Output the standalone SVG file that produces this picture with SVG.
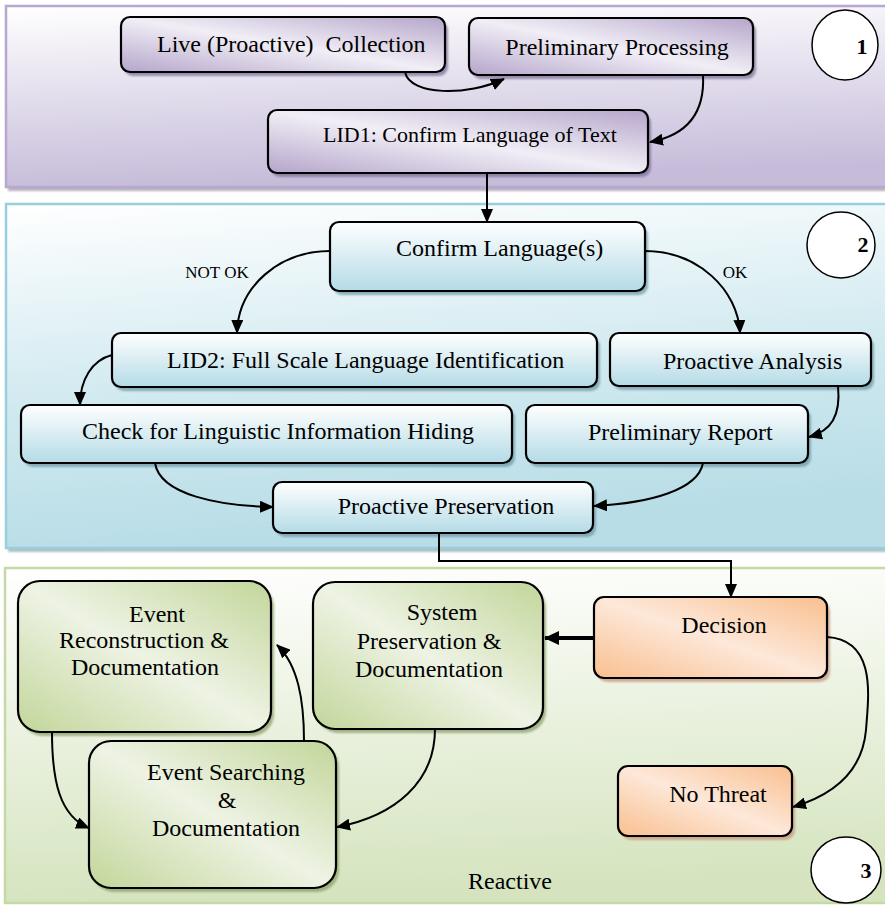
<svg xmlns="http://www.w3.org/2000/svg" width="885" height="906" viewBox="0 0 885 906">
  <defs>
    <!-- panel backgrounds -->
    <linearGradient id="gPanelPurple" x1="0" y1="0" x2="0.15" y2="1">
      <stop offset="0" stop-color="#ffffff"/>
      <stop offset="1" stop-color="#c6bcda"/>
    </linearGradient>
    <linearGradient id="gPanelBlue" x1="0" y1="0" x2="0.2" y2="1">
      <stop offset="0" stop-color="#ffffff"/>
      <stop offset="0.55" stop-color="#d2eaf0"/>
      <stop offset="1" stop-color="#b8dde7"/>
    </linearGradient>
    <linearGradient id="gPanelGreen" x1="0" y1="0" x2="0.1" y2="1">
      <stop offset="0" stop-color="#ffffff"/>
      <stop offset="1" stop-color="#d5e4bf"/>
    </linearGradient>
    <!-- node fills -->
    <linearGradient id="gPurple" x1="1" y1="0" x2="0" y2="1">
      <stop offset="0" stop-color="#b5a5ca"/>
      <stop offset="0.5" stop-color="#f1eef6"/>
      <stop offset="1" stop-color="#b5a5ca"/>
    </linearGradient>
    <linearGradient id="gBlue" x1="0" y1="0" x2="0" y2="1">
      <stop offset="0" stop-color="#ffffff"/>
      <stop offset="1" stop-color="#b4dbe6"/>
    </linearGradient>
    <linearGradient id="gGreen" x1="1" y1="0" x2="0" y2="1">
      <stop offset="0" stop-color="#c2d69a"/>
      <stop offset="0.5" stop-color="#eef3e4"/>
      <stop offset="1" stop-color="#c2d69a"/>
    </linearGradient>
    <linearGradient id="gOrange" x1="1" y1="0" x2="0" y2="1">
      <stop offset="0" stop-color="#f9bf8f"/>
      <stop offset="0.5" stop-color="#fde8d9"/>
      <stop offset="1" stop-color="#f9bf8f"/>
    </linearGradient>
    <filter id="soft" x="-5%" y="-5%" width="110%" height="115%">
      <feGaussianBlur stdDeviation="0.8"/>
    </filter>
    <marker id="arrow" markerUnits="userSpaceOnUse" markerWidth="14" markerHeight="12" refX="13" refY="6" orient="auto">
      <path d="M0,0 L14,6 L0,12 Z" fill="#000"/>
    </marker>
    <marker id="arrowBig" markerUnits="userSpaceOnUse" markerWidth="15" markerHeight="14" refX="14" refY="7" orient="auto">
      <path d="M0,0 L15,7 L0,14 Z" fill="#000"/>
    </marker>
  </defs>
  <style>
    .panel { stroke-width: 2.5; }
    .node { stroke: #000; stroke-width: 2.2; }
    .shadow { filter: url(#soft); opacity: 0.75; }
    .lbl { font-family: "Liberation Serif", "Times New Roman", serif; font-size: 24px; fill: #000; }
    .small { font-size: 17px; }
    .num { font-family: "Liberation Serif", "Times New Roman", serif; font-size: 22px; font-weight: bold; fill: #000; }
    .tag { fill: #fff; stroke: #000; stroke-width: 1.5; }
    .conn { fill: none; stroke: #000; stroke-width: 2; marker-end: url(#arrow); }
  </style>

  <rect width="885" height="906" fill="#ffffff"/>

  <!-- Stage 1: proactive collection -->
  <g id="panel-1">
    <rect x="8" y="9" width="880" height="182" fill="#9e97aa" class="shadow"/>
    <rect x="6" y="6" width="882" height="181" fill="url(#gPanelPurple)" stroke="#b8a8d0" class="panel"/>
    <ellipse class="tag" cx="845" cy="45" rx="33" ry="35"/>
    <text class="num" x="862" y="54" text-anchor="middle">1</text>
  </g>

  <!-- Stage 2: proactive analysis -->
  <g id="panel-2">
    <rect x="8" y="207" width="880" height="345" fill="#97aab0" class="shadow"/>
    <rect x="6" y="204" width="882" height="344" fill="url(#gPanelBlue)" stroke="#97cfdd" class="panel"/>
    <ellipse class="tag" cx="841" cy="245" rx="34" ry="33"/>
    <text class="num" x="863" y="252" text-anchor="middle">2</text>
  </g>

  <!-- Stage 3: reactive -->
  <g id="panel-3">
    <rect x="5" y="568" width="883" height="335" fill="url(#gPanelGreen)" stroke="#c4d9a4" class="panel"/>
    <ellipse class="tag" cx="846" cy="870" rx="35" ry="33"/>
    <text class="num" x="866" y="878" text-anchor="middle">3</text>
    <text class="lbl" x="510" y="889" text-anchor="middle">Reactive</text>
  </g>

  <!-- Nodes -->
  <g id="live-collection">
    <rect x="124" y="21" width="324" height="55" rx="9" fill="#7e6f98" class="shadow"/>
    <rect x="121" y="17" width="324" height="55" rx="9" fill="url(#gPurple)" class="node"/>
    <text class="lbl" x="157" y="52" xml:space="preserve">Live (Proactive)  Collection</text>
  </g>
  <g id="preliminary-processing">
    <rect x="472" y="22" width="284" height="57" rx="9" fill="#7e6f98" class="shadow"/>
    <rect x="469" y="18" width="284" height="57" rx="9" fill="url(#gPurple)" class="node"/>
    <text class="lbl" x="617" y="55" text-anchor="middle">Preliminary Processing</text>
  </g>
  <g id="lid1">
    <rect x="271" y="114" width="380" height="63" rx="9" fill="#7e6f98" class="shadow"/>
    <rect x="268" y="110" width="380" height="63" rx="9" fill="url(#gPurple)" class="node"/>
    <text class="lbl" x="323" y="142" style="font-size:22px">LID1: Confirm Language of Text</text>
  </g>

  <g id="confirm-language">
    <rect x="333" y="226" width="315" height="69" rx="9" fill="#6f98a6" class="shadow"/>
    <rect x="330" y="222" width="315" height="69" rx="9" fill="url(#gBlue)" class="node"/>
    <text class="lbl" x="396" y="256">Confirm Language(s)</text>
  </g>
  <g id="lid2">
    <rect x="115" y="337" width="485" height="54" rx="9" fill="#6f98a6" class="shadow"/>
    <rect x="112" y="333" width="485" height="54" rx="9" fill="url(#gBlue)" class="node"/>
    <text class="lbl" x="167" y="368">LID2: Full Scale Language Identification</text>
  </g>
  <g id="proactive-analysis">
    <rect x="613" y="337" width="261" height="53" rx="9" fill="#6f98a6" class="shadow"/>
    <rect x="610" y="333" width="261" height="53" rx="9" fill="url(#gBlue)" class="node"/>
    <text class="lbl" x="663" y="369">Proactive Analysis</text>
  </g>
  <g id="check-hiding">
    <rect x="24" y="409" width="491" height="58" rx="9" fill="#6f98a6" class="shadow"/>
    <rect x="21" y="405" width="491" height="58" rx="9" fill="url(#gBlue)" class="node"/>
    <text class="lbl" x="82" y="439">Check for Linguistic Information Hiding</text>
  </g>
  <g id="preliminary-report">
    <rect x="529" y="409" width="282" height="58" rx="9" fill="#6f98a6" class="shadow"/>
    <rect x="526" y="405" width="282" height="58" rx="9" fill="url(#gBlue)" class="node"/>
    <text class="lbl" x="588" y="440">Preliminary Report</text>
  </g>
  <g id="proactive-preservation">
    <rect x="276" y="486" width="320" height="51" rx="9" fill="#6f98a6" class="shadow"/>
    <rect x="273" y="482" width="320" height="51" rx="9" fill="url(#gBlue)" class="node"/>
    <text class="lbl" x="446" y="514" text-anchor="middle">Proactive Preservation</text>
  </g>

  <g id="decision">
    <rect x="597" y="601" width="233" height="81" rx="10" fill="#c7967a" class="shadow"/>
    <rect x="594" y="597" width="233" height="81" rx="10" fill="url(#gOrange)" class="node"/>
    <text class="lbl" x="724" y="633" text-anchor="middle">Decision</text>
  </g>
  <g id="no-threat">
    <rect x="621" y="770" width="174" height="70" rx="10" fill="#c7967a" class="shadow"/>
    <rect x="618" y="766" width="174" height="70" rx="10" fill="url(#gOrange)" class="node"/>
    <text class="lbl" x="718" y="802" text-anchor="middle">No Threat</text>
  </g>
  <g id="system-preservation">
    <rect x="316" y="586" width="230" height="147" rx="22" fill="#8a9f68" class="shadow"/>
    <rect x="313" y="582" width="230" height="147" rx="22" fill="url(#gGreen)" class="node"/>
    <text class="lbl" text-anchor="middle"><tspan x="442" y="620">System</tspan><tspan x="429" y="649">Preservation &amp;</tspan><tspan x="429" y="677">Documentation</tspan></text>
  </g>
  <g id="event-reconstruction">
    <rect x="21" y="585" width="253" height="151" rx="22" fill="#8a9f68" class="shadow"/>
    <rect x="18" y="581" width="253" height="151" rx="22" fill="url(#gGreen)" class="node"/>
    <text class="lbl" text-anchor="middle"><tspan x="157" y="622">Event</tspan><tspan x="144" y="648">Reconstruction &amp;</tspan><tspan x="145" y="675">Documentation</tspan></text>
  </g>
  <g id="event-searching">
    <rect x="92" y="745" width="247" height="147" rx="22" fill="#8a9f68" class="shadow"/>
    <rect x="89" y="741" width="247" height="147" rx="22" fill="url(#gGreen)" class="node"/>
    <text class="lbl" text-anchor="middle"><tspan x="226" y="780">Event Searching</tspan><tspan x="227" y="808">&amp;</tspan><tspan x="226" y="836">Documentation</tspan></text>
  </g>

  <!-- Connectors -->
  <g id="connectors">
    <path class="conn" d="M405,72 C410,96 468,96 504,79"/>
    <path class="conn" d="M703,75 C705,112 688,135 650,142"/>
    <path class="conn" d="M487,173 L487,222"/>
    <path class="conn" d="M330,251 C280,251 238,286 237,333"/>
    <path class="conn" d="M645,251 C698,251 738,290 740,333"/>
    <path class="conn" d="M112,355 C92,360 80,380 80,405"/>
    <path class="conn" d="M838,386 C841,416 831,431 809,437"/>
    <path class="conn" d="M155,463 C160,495 220,506 273,507"/>
    <path class="conn" d="M703,463 C698,490 650,503 594,506"/>
    <path class="conn" d="M439,533 V561 H731 V597"/>
    <path class="conn" d="M594,638 L545,638" style="stroke-width:4;marker-end:url(#arrowBig)"/>
    <path class="conn" d="M827,637 C878,640 868,700 866,730 C862,775 830,796 793,807"/>
    <path class="conn" d="M435,729 C435,782 395,816 337,827"/>
    <path class="conn" d="M304,741 C304,700 298,665 277,645"/>
    <path class="conn" d="M52,732 C52,782 60,816 89,828"/>
  </g>

  <!-- Connector labels -->
  <text class="lbl small" x="217" y="278" text-anchor="middle">NOT OK</text>
  <text class="lbl small" x="735" y="278" text-anchor="middle">OK</text>
</svg>
